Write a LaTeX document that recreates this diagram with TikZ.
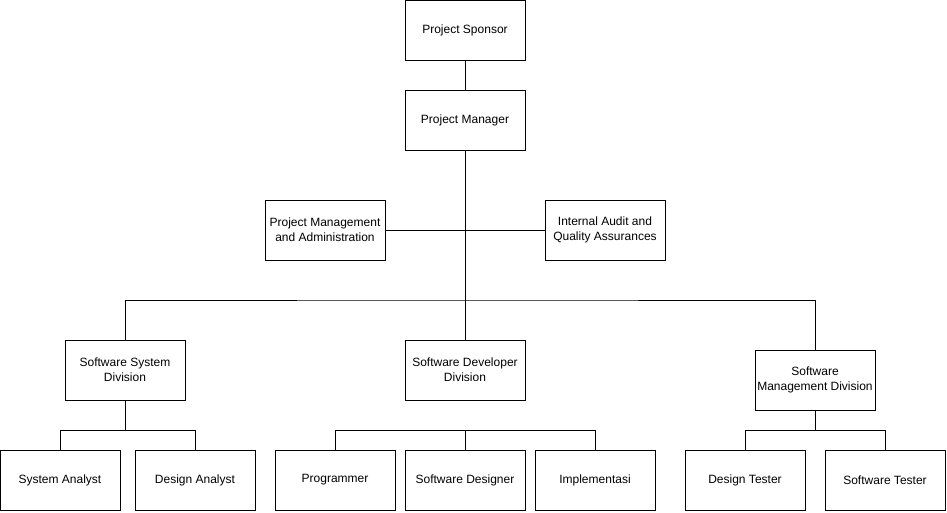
\documentclass[tikz,border=0pt]{standalone}
\usepackage{fontspec}
\setmainfont{Liberation Sans}
\usepackage{tikz}

\begin{document}
\begin{tikzpicture}
        [x=0.75pt,y=-0.75pt,line width=0.75pt,every node/.style={draw,rectangle,fill=white,align=center,font=\fontsize{9}{11.5}\selectfont,minimum width=90pt,minimum height=45pt,inner sep=0pt}]
        \useasboundingbox (0,0) rectangle (947,512);
        \node (ps)  at (465,30)  {Project Sponsor};
        \node (pm)  at (465,120) {Project Manager};
        \node (pma) at (325,230) {Project Management\\and Administration};
        \node (iaq) at (605,230) {Internal Audit and\\Quality Assurances};
        
        \node (ssd) at (125,370) {Software System\\Division};
        \node (sdd) at (465,370) {Software Developer\\Division};
        \node (smd) at (815,380) {Software\\Management Division};
        
        \node (sa)  at (60,480)  {System Analyst};
        \node (da)  at (195,480) {Design Analyst};
        \node (pr)  at (335,480) {Programmer};
        \node (sw)  at (465,480) {Software Designer};
        \node (im)  at (595,480) {Implementasi};
        \node (dt)  at (745,480) {Design Tester};
        \node (st)  at (885,480) {Software Tester};
        
        \coordinate (bus) at (465,300);
        \coordinate (b1)  at (125,430);
        \coordinate (b2)  at (465,430);
        \coordinate (b3)  at (815,430);
        
        \path [-] (ps) edge (pm);
        \path [-] (pm) edge (sdd);
        \path [-] (pma) edge (iaq);
        \draw (ssd) |- (bus) -| (smd);
        
        \draw (ssd) -- (b1);
        \draw (sa) |- (b1) -| (da);
        \draw (sw) -- (b2);
        \draw (pr) |- (b2) -| (im);
        \draw (smd) -- (b3);
        \draw (dt) |- (b3) -| (st);
    \end{tikzpicture}
\end{document}
